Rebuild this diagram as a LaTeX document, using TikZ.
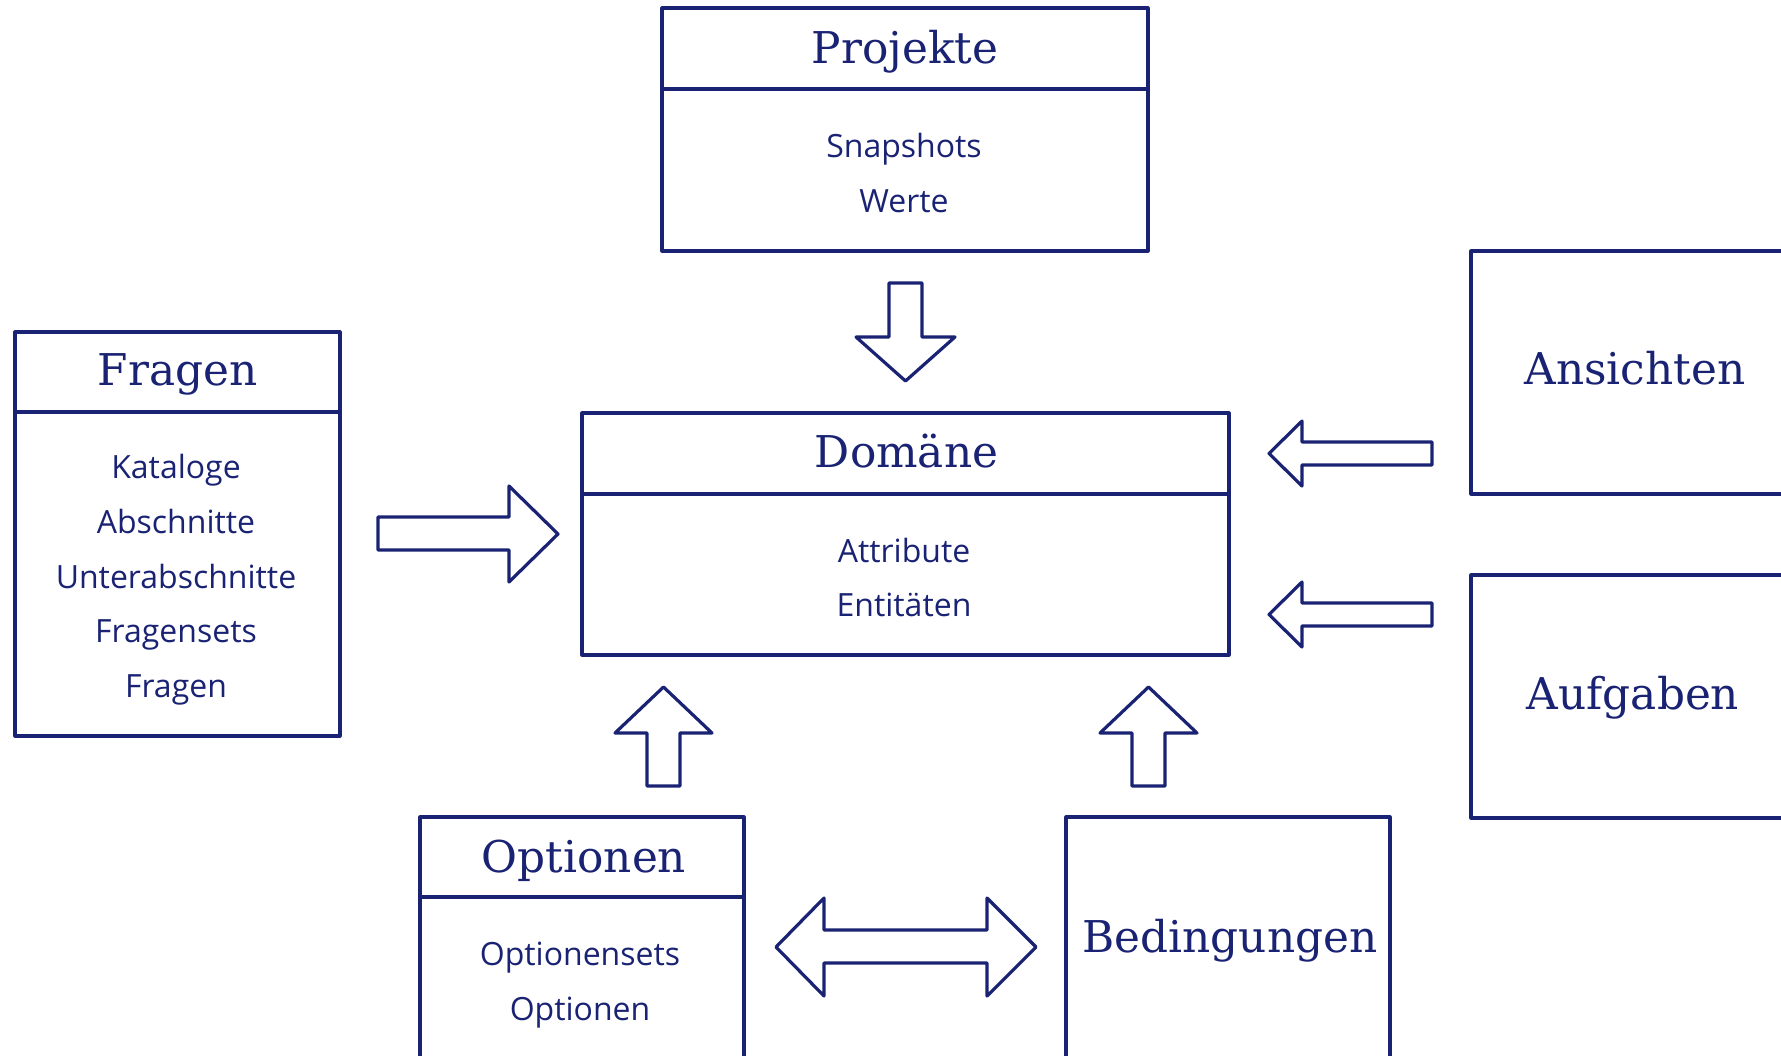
\documentclass[tikz,border=0pt]{standalone}
\usepackage{fontspec}
\setmainfont{DejaVu Serif}
\newfontfamily\itemfont{Open Sans}
\usepackage{tikz}
\definecolor{navy}{RGB}{26,35,115}

\begin{document}
\begin{tikzpicture}[x=0.5pt,y=0.5pt]
\tikzstyle{every node}+=[inner sep=0pt]
\tikzset{
  frame/.style={draw=navy,line width=1.6pt,line join=round},
  head/.style={text=navy,anchor=base,font=\fontsize{21.9}{26}\selectfont},
  entry/.style={text=navy,anchor=base,font=\itemfont\fontsize{16}{19}\selectfont}
}
\clip (0,0) rectangle (1781,-1055);
% Projekte
\draw [frame] (662,-8) rectangle (1148,-251);
\draw [frame] (662,-89) -- (1148,-89);
\draw (905,-63) node [head] (projekte) {Projekte};
\draw (904,-157) node [entry] (snapshots) {Snapshots};
\draw (904,-212) node [entry] (werte) {Werte};
% Fragen
\draw [frame] (15,-332) rectangle (340,-736);
\draw [frame] (15,-412) -- (340,-412);
\draw (177.5,-385) node [head] (fragen) {Fragen};
\draw (176,-478) node [entry] (kataloge) {Kataloge};
\draw (176,-533) node [entry] (abschnitte) {Abschnitte};
\draw (176,-588) node [entry] (unterabschnitte) {Unterabschnitte};
\draw (176,-642) node [entry] (fragensets) {Fragensets};
\draw (176,-697) node [entry] (fragenitem) {Fragen};
% Domaene
\draw [frame] (582,-413) rectangle (1229,-655);
\draw [frame] (582,-494) -- (1229,-494);
\draw (906.5,-467) node [head] (domaene) {Domäne};
\draw (904,-562) node [entry] (attribute) {Attribute};
\draw (904,-616) node [entry] (entitaeten) {Entitäten};
% Ansichten, Aufgaben
\draw [frame] (1471,-251) rectangle (1800,-494);
\draw (1635,-384) node [head] (ansichten) {Ansichten};
\draw [frame] (1471,-575) rectangle (1800,-818);
\draw (1633,-709) node [head] (aufgaben) {Aufgaben};
% Optionen
\draw [frame] (420,-817) rectangle (744,-1075);
\draw [frame] (420,-897) -- (744,-897);
\draw (584,-872) node [head] (optionen) {Optionen};
\draw (580,-965) node [entry] (optionensets) {Optionensets};
\draw (580,-1020) node [entry] (optionenitem) {Optionen};
% Bedingungen
\draw [frame] (1066,-817) rectangle (1390,-1075);
\draw (1230,-952) node [head] (bedingungen) {Bedingungen};
% block arrows
\draw [frame] (889,-283) -- (922,-283) -- (922,-337) -- (955,-337) -- (905.5,-381) -- (856,-337) -- (889,-337) -- cycle;
\draw [frame] (378,-517) -- (509,-517) -- (509,-486) -- (558,-534) -- (509,-582) -- (509,-550) -- (378,-550) -- cycle;
\draw [frame] (1432,-442) -- (1302,-442) -- (1302,-421) -- (1269,-453.5) -- (1302,-486) -- (1302,-465) -- (1432,-465) -- cycle;
\draw [frame] (1432,-603) -- (1302,-603) -- (1302,-582) -- (1269,-614.5) -- (1302,-647) -- (1302,-626) -- (1432,-626) -- cycle;
\draw [frame] (647,-786) -- (680,-786) -- (680,-733) -- (712,-733) -- (663.5,-687) -- (615,-733) -- (647,-733) -- cycle;
\draw [frame] (1132,-786) -- (1165,-786) -- (1165,-733) -- (1197,-733) -- (1148.5,-687) -- (1100,-733) -- (1132,-733) -- cycle;
\draw [frame] (776,-947) -- (824,-898) -- (824,-930) -- (987,-930) -- (987,-898) -- (1036,-947) -- (987,-996) -- (987,-963) -- (824,-963) -- (824,-996) -- cycle;
\end{tikzpicture}
\end{document}
